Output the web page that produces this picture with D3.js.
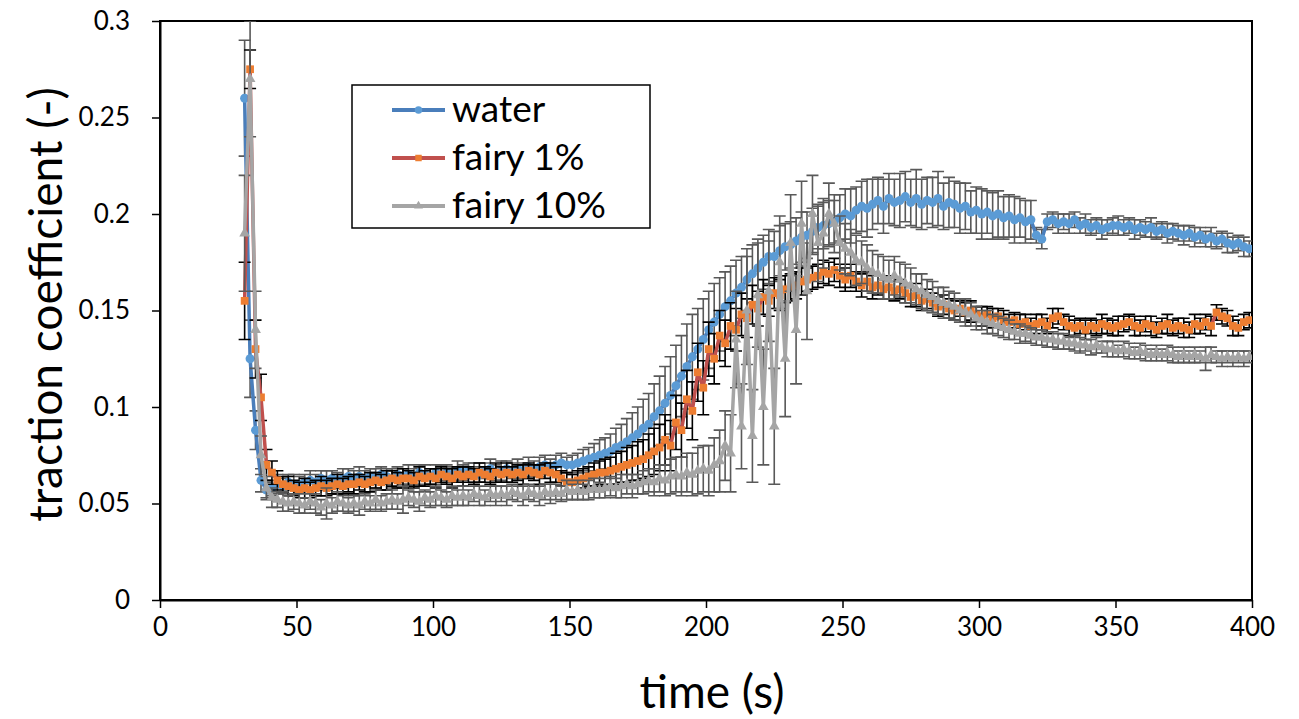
<!DOCTYPE html>
<meta charset="utf-8">
<html>
  <head>
    <title>traction coefficient vs time</title>
    <style>
      body { margin: 0; background: #fff; font-family: "Lato", sans-serif; }
    </style>
  </head>
  <body>
    <div id="chart"></div>
    <script src="https://d3js.org/d3.v7.min.js"></script>
    <script>

      const tFirst = 31, tStep = 2;
      const xTicks = [0, 50, 100, 150, 200, 250, 300, 350, 400];
      const yTicks = [0, 0.05, 0.1, 0.15, 0.2, 0.25, 0.3];
      const yTickLabels = ["0", "0.05", "0.1", "0.15", "0.2", "0.25", "0.3"];
      const seriesNames = ["water", "fairy 1%", "fairy 10%"];

      const waterMean = [
        0.260,0.125,0.088,0.062,0.057,0.058,0.060,0.059,0.061,0.060,
        0.060,0.061,0.062,0.061,0.063,0.062,0.063,0.062,0.063,0.064,
        0.063,0.064,0.063,0.064,0.063,0.065,0.064,0.063,0.065,0.064,
        0.065,0.064,0.066,0.065,0.064,0.066,0.065,0.066,0.065,0.067,
        0.066,0.067,0.066,0.065,0.067,0.068,0.066,0.067,0.068,0.067,
        0.068,0.067,0.069,0.068,0.069,0.070,0.069,0.070,0.071,0.070,
        0.070,0.071,0.072,0.073,0.074,0.075,0.076,0.077,0.079,0.080,
        0.082,0.084,0.086,0.089,0.091,0.095,0.098,0.102,0.106,0.111,
        0.116,0.121,0.126,0.130,0.135,0.140,0.144,0.148,0.152,0.155,
        0.159,0.162,0.166,0.169,0.172,0.175,0.178,0.178,0.181,0.183,
        0.184,0.186,0.188,0.189,0.191,0.193,0.194,0.195,0.196,0.198,
        0.200,0.199,0.202,0.204,0.203,0.205,0.207,0.204,0.208,0.206,
        0.207,0.209,0.206,0.208,0.205,0.207,0.206,0.208,0.204,0.206,
        0.205,0.203,0.204,0.201,0.202,0.200,0.201,0.199,0.200,0.198,
        0.199,0.197,0.198,0.196,0.197,0.189,0.187,0.196,0.197,0.195,
        0.196,0.195,0.197,0.194,0.195,0.193,0.194,0.192,0.193,0.194,
        0.194,0.193,0.194,0.192,0.193,0.192,0.193,0.191,0.192,0.190,
        0.191,0.190,0.189,0.190,0.188,0.189,0.187,0.188,0.186,0.187,
        0.185,0.184,0.185,0.183,0.182
      ];
      const waterErr = [
        .030,.020,.010,.006,.004,.004,.005,.004,.004,.005,
        .004,.004,.005,.004,.004,.005,.004,.004,.005,.004,
        .004,.005,.004,.004,.005,.004,.004,.005,.004,.004,
        .005,.004,.004,.005,.004,.004,.005,.004,.004,.005,
        .004,.004,.005,.004,.004,.005,.004,.005,.004,.004,
        .005,.004,.005,.004,.005,.005,.004,.005,.005,.004,
        .005,.005,.006,.006,.007,.008,.008,.009,.010,.011,
        .012,.013,.014,.015,.016,.017,.018,.019,.020,.021,
        .021,.022,.022,.021,.021,.020,.020,.019,.018,.018,
        .017,.016,.016,.015,.015,.014,.014,.013,.013,.012,
        .012,.012,.013,.012,.012,.011,.012,.012,.011,.012,
        .013,.014,.012,.013,.015,.013,.012,.014,.013,.012,
        .014,.013,.012,.015,.013,.012,.013,.014,.012,.013,
        .012,.013,.012,.011,.012,.013,.011,.012,.012,.011,
        .011,.012,.010,.011,.010,.004,.005,.004,.004,.005,
        .004,.005,.004,.004,.005,.004,.004,.005,.004,.004,
        .005,.004,.004,.005,.004,.004,.005,.004,.004,.005,
        .004,.004,.005,.004,.005,.004,.004,.005,.004,.004,
        .005,.004,.004,.005,.004
      ];

      const fairy1Mean = [
        0.155,0.275,0.130,0.105,0.070,0.066,0.062,0.060,0.059,0.058,
        0.057,0.058,0.057,0.058,0.059,0.058,0.059,0.060,0.059,0.060,
        0.060,0.061,0.060,0.061,0.062,0.061,0.062,0.063,0.062,0.063,
        0.063,0.062,0.064,0.063,0.064,0.063,0.065,0.064,0.063,0.065,
        0.064,0.065,0.064,0.066,0.065,0.064,0.066,0.065,0.066,0.065,
        0.066,0.065,0.067,0.066,0.065,0.067,0.066,0.065,0.063,0.061,
        0.061,0.062,0.063,0.064,0.065,0.066,0.066,0.067,0.068,0.069,
        0.070,0.071,0.072,0.073,0.075,0.077,0.079,0.083,0.080,0.092,
        0.088,0.104,0.098,0.118,0.110,0.130,0.125,0.137,0.133,0.142,
        0.140,0.148,0.146,0.153,0.151,0.157,0.155,0.159,0.158,0.161,
        0.162,0.163,0.165,0.166,0.167,0.168,0.170,0.169,0.171,0.168,
        0.166,0.168,0.165,0.163,0.165,0.162,0.163,0.161,0.162,0.160,
        0.161,0.159,0.157,0.158,0.155,0.156,0.154,0.152,0.153,0.151,
        0.150,0.151,0.149,0.150,0.148,0.147,0.148,0.146,0.147,0.145,
        0.144,0.145,0.143,0.144,0.142,0.143,0.144,0.142,0.146,0.147,
        0.144,0.142,0.141,0.142,0.140,0.142,0.141,0.143,0.142,0.141,
        0.142,0.143,0.144,0.142,0.141,0.143,0.142,0.140,0.142,0.143,
        0.141,0.142,0.141,0.140,0.143,0.142,0.144,0.142,0.149,0.147,
        0.146,0.142,0.141,0.144,0.145
      ];
      const fairy1Err = [
        .020,.010,.015,.012,.008,.006,.005,.004,.005,.004,
        .004,.005,.004,.004,.005,.004,.004,.005,.004,.004,
        .005,.004,.004,.005,.004,.004,.005,.004,.004,.005,
        .004,.004,.005,.004,.004,.005,.004,.004,.005,.004,
        .005,.004,.004,.005,.004,.004,.005,.004,.005,.004,
        .004,.005,.004,.004,.005,.004,.005,.004,.004,.005,
        .004,.005,.005,.005,.006,.006,.007,.007,.008,.008,
        .009,.009,.010,.010,.011,.012,.012,.013,.013,.014,
        .014,.015,.015,.015,.014,.014,.013,.013,.012,.012,
        .011,.011,.010,.010,.009,.009,.008,.008,.008,.007,
        .007,.007,.007,.006,.006,.006,.006,.006,.006,.006,
        .006,.006,.005,.006,.005,.006,.005,.005,.006,.005,
        .005,.005,.005,.006,.005,.005,.005,.005,.005,.005,
        .005,.004,.005,.005,.004,.005,.004,.005,.004,.005,
        .004,.004,.005,.004,.004,.005,.004,.004,.005,.004,
        .004,.005,.004,.004,.005,.004,.004,.005,.004,.004,
        .005,.004,.004,.005,.004,.004,.005,.004,.004,.005,
        .004,.004,.005,.004,.005,.004,.004,.005,.004,.004,
        .004,.005,.004,.004,.004
      ];

      const fairy10Mean = [
        0.190,0.270,0.140,0.075,0.058,0.053,0.052,0.051,0.050,0.051,
        0.050,0.049,0.051,0.050,0.048,0.050,0.049,0.051,0.050,0.049,
        0.050,0.049,0.051,0.050,0.052,0.050,0.051,0.052,0.051,0.052,
        0.053,0.052,0.051,0.053,0.052,0.054,0.053,0.052,0.054,0.053,
        0.054,0.053,0.055,0.054,0.053,0.055,0.054,0.055,0.054,0.056,
        0.055,0.054,0.056,0.055,0.054,0.056,0.055,0.056,0.055,0.057,
        0.056,0.057,0.056,0.057,0.058,0.057,0.058,0.059,0.058,0.059,
        0.060,0.059,0.060,0.061,0.062,0.061,0.063,0.062,0.064,0.065,
        0.064,0.066,0.065,0.067,0.068,0.067,0.070,0.072,0.080,0.076,
        0.135,0.090,0.150,0.085,0.158,0.100,0.160,0.090,0.175,0.125,
        0.185,0.140,0.195,0.160,0.200,0.185,0.190,0.200,0.195,0.185,
        0.182,0.180,0.176,0.175,0.172,0.170,0.169,0.167,0.166,0.168,
        0.166,0.164,0.163,0.161,0.160,0.158,0.157,0.155,0.154,0.153,
        0.152,0.150,0.149,0.148,0.146,0.145,0.144,0.143,0.142,0.141,
        0.140,0.139,0.138,0.138,0.137,0.136,0.136,0.135,0.135,0.134,
        0.134,0.133,0.133,0.132,0.132,0.131,0.132,0.131,0.130,0.130,
        0.129,0.130,0.129,0.128,0.129,0.128,0.127,0.128,0.127,0.128,
        0.127,0.126,0.127,0.126,0.127,0.126,0.125,0.127,0.126,0.125,
        0.126,0.125,0.126,0.125,0.126
      ];
      const fairy10Err = [
        .030,.030,.020,.010,.006,.005,.004,.005,.004,.004,
        .005,.004,.004,.005,.004,.008,.004,.005,.004,.004,
        .004,.005,.004,.004,.005,.004,.004,.005,.004,.007,
        .004,.004,.005,.004,.004,.005,.004,.004,.005,.004,
        .005,.004,.004,.005,.004,.004,.005,.004,.005,.004,
        .004,.005,.004,.004,.005,.004,.005,.004,.004,.005,
        .004,.005,.004,.005,.005,.004,.005,.005,.005,.006,
        .005,.006,.005,.006,.006,.007,.007,.008,.009,.009,
        .010,.010,.011,.012,.012,.013,.014,.016,.018,.020,
        .025,.022,.028,.024,.027,.030,.026,.030,.024,.030,
        .025,.028,.022,.025,.020,.020,.018,.016,.015,.014,
        .013,.012,.013,.011,.012,.011,.010,.011,.010,.010,
        .009,.010,.009,.008,.009,.008,.008,.007,.008,.007,
        .007,.006,.007,.006,.006,.005,.006,.005,.005,.005,
        .005,.004,.005,.004,.004,.004,.004,.004,.004,.004,
        .004,.003,.004,.004,.003,.004,.004,.003,.004,.004,
        .003,.004,.004,.003,.004,.004,.003,.004,.003,.004,
        .004,.003,.004,.003,.004,.003,.006,.004,.003,.004,
        .003,.004,.003,.004,.003
      ];

      // ---- layout ----
      const margin = {top: 21, right: 47, bottom: 119, left: 160},
          width = 1299 - margin.left - margin.right,
          height = 719 - margin.top - margin.bottom;

      const svgRoot = d3.select("#chart")
        .append("svg")
          .attr("width", 1299)
          .attr("height", 719);
      const svg = svgRoot.append("g")
          .attr("transform", `translate(${margin.left}, ${margin.top})`);

      const xScale = d3.scaleLinear().domain([0, 400]).range([0, width]);
      const yScale = d3.scaleLinear().domain([0, 0.3]).range([height, 0]);

      svgRoot.append("defs").append("clipPath").attr("id", "plotclip")
        .append("rect").attr("x", 0).attr("y", 0)
        .attr("width", width).attr("height", height);

      // plot area border
      svg.append("rect")
        .attr("width", width).attr("height", height)
        .attr("fill", "none").attr("stroke", "#000").attr("stroke-width", 2);

      // series definitions
      const series = [
        {name: seriesNames[0], mean: waterMean, err: waterErr, line: "#4a7ebb", fill: "#5b9bd5", bar: "#595959", shape: d3.symbolCircle, size: 64},
        {name: seriesNames[1], mean: fairy1Mean, err: fairy1Err, line: "#c0504d", fill: "#ed7d31", bar: "#000000", shape: d3.symbolSquare, size: 60},
        {name: seriesNames[2], mean: fairy10Mean, err: fairy10Err, line: "#a5a5a5", fill: "#a5a5a5", bar: "#595959", shape: d3.symbolTriangle, size: 50}
      ];

      const plot = svg.append("g").attr("clip-path", "url(#plotclip)");
      const capHalf = 6;

      series.forEach(s => {
        const pts = s.mean.map((v, i) => ({t: tFirst + tStep * i, v: v, e: s.err[i]}));
        const g = plot.append("g");

        // error bars
        const bars = g.append("g")
          .attr("stroke", s.bar).attr("stroke-width", 1.6).attr("fill", "none");
        bars.selectAll("path")
          .data(pts)
          .join("path")
            .attr("d", d => {
              const x = xScale(d.t), y0 = yScale(d.v - d.e), y1 = yScale(d.v + d.e);
              return `M${x},${y0}V${y1}M${x - capHalf},${y0}H${x + capHalf}M${x - capHalf},${y1}H${x + capHalf}`;
            });

        // line
        g.append("path")
          .datum(pts)
          .attr("fill", "none")
          .attr("stroke", s.line)
          .attr("stroke-width", 3.5)
          .attr("stroke-linejoin", "round")
          .attr("d", d3.line().x(d => xScale(d.t)).y(d => yScale(d.v)));

        // markers
        g.append("g").selectAll("path")
          .data(pts)
          .join("path")
            .attr("transform", d => `translate(${xScale(d.t)}, ${yScale(d.v)})`)
            .attr("d", d3.symbol().type(s.shape).size(s.size))
            .attr("fill", s.fill);
      });

      // axes
      const xAxis = svg.append("g")
        .attr("transform", `translate(0, ${height})`)
        .call(d3.axisBottom(xScale).tickValues(xTicks).tickSize(8).tickSizeOuter(0).tickPadding(10));
      const yAxis = svg.append("g")
        .call(d3.axisLeft(yScale).tickValues(yTicks).tickFormat((d, i) => yTickLabels[i]).tickSize(8).tickSizeOuter(0).tickPadding(22));

      [xAxis, yAxis].forEach(a => {
        a.select(".domain").attr("stroke", "#000").attr("stroke-width", 2);
        a.selectAll(".tick line").attr("stroke", "#000").attr("stroke-width", 1.5);
        a.selectAll(".tick text")
          .attr("fill", "#000")
          .style("font-family", "Lato, sans-serif")
          .style("font-size", "26px");
      });

      // axis titles
      svg.append("text")
        .attr("x", xScale(200) + 6)
        .attr("y", height + 108)
        .attr("text-anchor", "middle")
        .style("font-size", "46px")
        .text("time (s)");

      svg.append("text")
        .attr("transform", `translate(${-98}, ${height / 2 - 6}) rotate(-90)`)
        .attr("text-anchor", "middle")
        .style("font-size", "46px")
        .text("traction coefficient (-)");

      // legend
      const legend = svgRoot.append("g").attr("transform", "translate(352, 85)");
      legend.append("rect")
        .attr("width", 298).attr("height", 143)
        .attr("fill", "#fff").attr("stroke", "#000").attr("stroke-width", 1.5);

      series.forEach((s, i) => {
        const row = legend.append("g").attr("transform", `translate(0, ${25 + i * 48})`);
        row.append("line")
          .attr("x1", 40).attr("x2", 93)
          .attr("stroke", s.line).attr("stroke-width", 4);
        row.append("path")
          .attr("transform", "translate(66.5, 0)")
          .attr("d", d3.symbol().type(s.shape).size(s.size * 0.7))
          .attr("fill", s.fill);
        row.append("text")
          .attr("x", 100)
          .attr("y", 12)
          .style("font-size", "37px")
          .text(s.name);
      });

    </script>
  </body>
</html>
